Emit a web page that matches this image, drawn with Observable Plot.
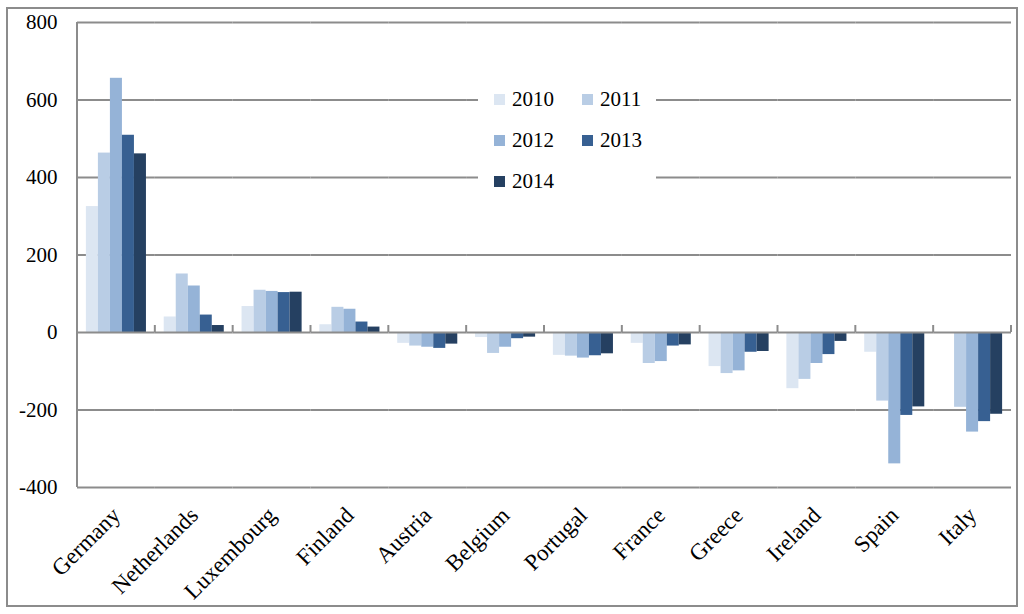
<!DOCTYPE html>
<html>
<head>
<meta charset="utf-8">
<script src="https://cdn.jsdelivr.net/npm/d3@7"></script>
<script src="https://cdn.jsdelivr.net/npm/@observablehq/plot@0.6"></script>
<style>
  html, body { margin: 0; padding: 0; background: #fff; }
  #wrap { position: relative; width: 1024px; height: 614px; font-family: "Liberation Serif", "DejaVu Serif", serif; }
  #border { position: absolute; left: 6px; top: 7px; width: 1008px; height: 596px; border: 2px solid #8c8c8c; pointer-events: none; }
  #legend { position: absolute; left: 478px; top: 79px; width: 178px; height: 118px; background: #fff;
            display: grid; grid-template-columns: 88px 90px; grid-auto-rows: 41px; font-size: 21px; color: #000; }
  .item { display: flex; align-items: center; padding-left: 16px; }
  .sw { width: 11px; height: 11px; margin-right: 7px; }
  svg { position: absolute; left: 0; top: 0; }
</style>
</head>
<body>
<div id="wrap"></div>
<script>
const countries = ["Germany","Netherlands","Luxembourg","Finland","Austria","Belgium","Portugal","France","Greece","Ireland","Spain","Italy"];
const years = ["2010","2011","2012","2013","2014"];
const colors = ["#dce6f2","#b9cde5","#95b3d7","#376092","#254061"];
const v2010 = [325, 40, 67, 20, -28, -13, -59, -28, -88, -145, -51, -1];
const v2011 = [463, 151, 109, 65, -35, -54, -61, -80, -106, -121, -177, -193];
const v2012 = [656, 120, 106, 60, -38, -38, -66, -75, -99, -80, -339, -257];
const v2013 = [509, 45, 103, 27, -41, -16, -60, -35, -51, -57, -214, -230];
const v2014 = [461, 18, 104, 14, -30, -12, -55, -32, -49, -23, -192, -211];
const yTicks = [-400, -200, 0, 200, 400, 600, 800];

const series = [v2010, v2011, v2012, v2013, v2014];
const data = [];
countries.forEach((c, i) => years.forEach((y, j) => data.push({country: c, year: y, value: series[j][i]})));

const FONT = "'Liberation Serif', 'DejaVu Serif', serif";

const chart = Plot.plot({
  width: 1024,
  height: 614,
  marginLeft: 77,
  marginRight: 13,
  marginTop: 22,
  marginBottom: 127,
  style: {fontFamily: FONT, fontSize: "21px", color: "#000", background: "transparent"},
  fx: {domain: countries, padding: 0, label: null, round: false},
  x: {domain: years, axis: null, paddingInner: 0, paddingOuter: 0.74, round: false},
  y: {domain: [-400, 800], label: null},
  color: {domain: years, range: colors},
  marks: [
    Plot.ruleY(yTicks.filter(d => d !== 0), {stroke: "#8c8c8c", strokeWidth: 2}),
    Plot.barY(data, {fx: "country", x: "year", y: "value", fill: "year", inset: 0}),
    Plot.ruleY([0], {stroke: "#8c8c8c", strokeWidth: 2}),
    Plot.axisY(yTicks, {tickSize: 0, tickPadding: 20, tickFormat: d => String(d), fontSize: 21, fontFamily: FONT, label: null}),
    Plot.axisFx({anchor: "bottom", tickRotate: -45, tickSize: 0, tickPadding: 24, fontSize: 23, fontFamily: FONT, label: null})
  ]
});

const wrap = document.getElementById("wrap");
wrap.appendChild(chart);

const svg = d3.select(chart);
const fxs = chart.scale("fx");
const ys = chart.scale("y");
const y0 = ys.apply(0);
const yTop = ys.apply(800), yBot = ys.apply(-400);

// y axis line
svg.append("line")
  .attr("x1", fxs.range[0]).attr("x2", fxs.range[0]).attr("y1", yTop).attr("y2", yBot)
  .attr("stroke", "#8c8c8c").attr("stroke-width", 2);

// category boundary ticks on the zero line
const bw = fxs.bandwidth;
countries.forEach(c => {
  const xb = fxs.apply(c) + bw;
  svg.append("line")
    .attr("x1", xb).attr("x2", xb).attr("y1", y0 - 7).attr("y2", y0)
    .attr("stroke", "#8c8c8c").attr("stroke-width", 2);
});

const border = document.createElement("div");
border.id = "border";
wrap.appendChild(border);

const legend = document.createElement("div");
legend.id = "legend";
years.forEach((y, i) => {
  const it = document.createElement("div");
  it.className = "item";
  it.innerHTML = `<span class="sw" style="background:${colors[i]}"></span><span>${y}</span>`;
  legend.appendChild(it);
});
wrap.appendChild(legend);
</script>
</body>
</html>
